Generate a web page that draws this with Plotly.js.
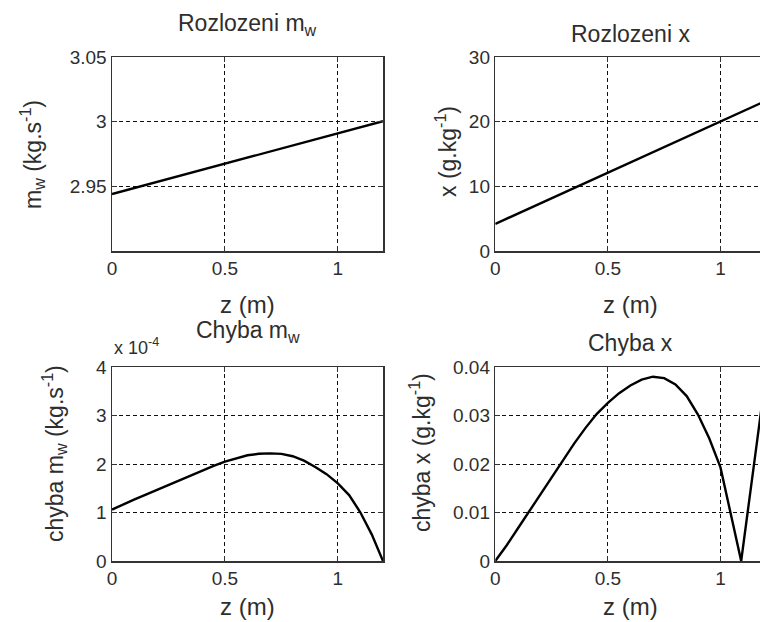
<!DOCTYPE html>
<html>
<head>
<meta charset="utf-8">
<script src="https://cdn.plot.ly/plotly-3.0.1.min.js"></script>
<style>
html, body { margin: 0; padding: 0; overflow: hidden; background: #fff; }
#chart { width: 790px; height: 622px; }
</style>
</head>
<body>
<div id="chart"></div>
<script>
// ---- data ----
const zProfile = [0, 0.2, 0.4, 0.6, 0.8, 1.0, 1.2];
const mwProfile = [2.944, 2.9534, 2.9628, 2.9722, 2.9816, 2.991, 3.0004];
const xProfile = [4.2, 7.35, 10.5, 13.7, 16.85, 20.0, 23.2];

const zErrMw = [0, 0.05, 0.1, 0.15, 0.2, 0.25, 0.3, 0.35, 0.4, 0.45, 0.5, 0.55, 0.6, 0.65, 0.7, 0.75, 0.8, 0.85, 0.9, 0.95, 1.0, 1.05, 1.1, 1.15, 1.2];
const errMw = [1.06, 1.17, 1.27, 1.37, 1.47, 1.57, 1.67, 1.77, 1.87, 1.96, 2.05, 2.12, 2.18, 2.21, 2.22, 2.21, 2.16, 2.07, 1.94, 1.79, 1.60, 1.36, 1.0, 0.55, 0.0]; // x 1e-4

const zErrX = [0, 0.05, 0.1, 0.15, 0.2, 0.25, 0.3, 0.35, 0.4, 0.45, 0.5, 0.55, 0.6, 0.65, 0.7, 0.75, 0.8, 0.85, 0.9, 0.95, 1.0, 1.05, 1.092, 1.15, 1.2];
const errX = [0, 0.0032, 0.0067, 0.0102, 0.0138, 0.0173, 0.0208, 0.0242, 0.0274, 0.0303, 0.0326, 0.0346, 0.0362, 0.0374, 0.0380, 0.0377, 0.0364, 0.0340, 0.0302, 0.0253, 0.0193, 0.0088, 0.0, 0.0203, 0.0378];

const xTickVals = [0, 0.5, 1];
const xTickText = ['0', '0.5', '1'];
const mwTickVals = [2.95, 3, 3.05];
const mwTickText = ['2.95', '3', '3.05'];
const xgTickVals = [0, 10, 20, 30];
const errMwTickVals = [0, 1, 2, 3, 4];
const errXTickVals = [0, 0.01, 0.02, 0.03, 0.04];
const errXTickText = ['0', '0.01', '0.02', '0.03', '0.04'];

// ---- layout helpers (pixel -> paper) ----
const W = 790, H = 622;
const px = v => v / W;
const py = v => 1 - v / H;
const FONT = '"Liberation Sans", Arial, Helvetica, sans-serif';
const TXT = '#2e2e2e';

const lineStyle = { color: '#000', width: 2.4 };

const traces = [
  { x: zProfile, y: mwProfile, xaxis: 'x', yaxis: 'y', mode: 'lines', line: lineStyle, hoverinfo: 'skip' },
  { x: zProfile, y: xProfile, xaxis: 'x2', yaxis: 'y2', mode: 'lines', line: lineStyle, hoverinfo: 'skip' },
  { x: zErrMw, y: errMw, xaxis: 'x3', yaxis: 'y3', mode: 'lines', line: lineStyle, hoverinfo: 'skip' },
  { x: zErrX, y: errX, xaxis: 'x4', yaxis: 'y4', mode: 'lines', line: lineStyle, hoverinfo: 'skip' }
];

function axisBase(extra) {
  return Object.assign({
    showline: true, mirror: 'ticks', linecolor: '#333', linewidth: 1.5,
    ticks: 'inside', ticklen: 5, tickcolor: '#333', tickwidth: 1,
    showgrid: true, gridcolor: '#111', gridwidth: 1, griddash: '4px,3px',
    zeroline: false, fixedrange: true,
    tickfont: { family: FONT, size: 19, color: TXT }
  }, extra);
}

const LX = [112, 383], RX = [495.3, 765.5];
const TY = [57, 251], BY = [367, 561];

const layout = {
  width: W, height: H,
  margin: { l: 0, r: 0, t: 0, b: 0 },
  paper_bgcolor: '#fff', plot_bgcolor: '#fff',
  showlegend: false,
  font: { family: FONT, color: TXT },
  xaxis: axisBase({ domain: [px(LX[0]), px(LX[1])], range: [0, 1.2], tickvals: xTickVals, ticktext: xTickText, anchor: 'y' }),
  yaxis: axisBase({ domain: [py(TY[1]), py(TY[0])], range: [2.9, 3.05], tickvals: mwTickVals, ticktext: mwTickText, anchor: 'x' }),
  xaxis2: axisBase({ domain: [px(RX[0]), px(RX[1])], range: [0, 1.2], tickvals: xTickVals, ticktext: xTickText, anchor: 'y2' }),
  yaxis2: axisBase({ domain: [py(TY[1]), py(TY[0])], range: [0, 30], tickvals: xgTickVals, anchor: 'x2' }),
  xaxis3: axisBase({ domain: [px(LX[0]), px(LX[1])], range: [0, 1.2], tickvals: xTickVals, ticktext: xTickText, anchor: 'y3' }),
  yaxis3: axisBase({ domain: [py(BY[1]), py(BY[0])], range: [0, 4], tickvals: errMwTickVals, anchor: 'x3' }),
  xaxis4: axisBase({ domain: [px(RX[0]), px(RX[1])], range: [0, 1.2], tickvals: xTickVals, ticktext: xTickText, anchor: 'y4' }),
  yaxis4: axisBase({ domain: [py(BY[1]), py(BY[0])], range: [0, 0.04], tickvals: errXTickVals, ticktext: errXTickText, anchor: 'x4' }),
  annotations: []
};

function ann(text, x, y, size, angle, xanchor) {
  layout.annotations.push({
    text: text, xref: 'paper', yref: 'paper', x: px(x), y: py(y),
    xanchor: xanchor || 'center', yanchor: 'middle', showarrow: false,
    textangle: angle || 0, font: { family: FONT, size: size, color: TXT }
  });
}

// subplot titles
ann('Rozlozeni m<sub>w</sub>', 247.5, 24, 23);
ann('Rozlozeni x', 630, 34, 23);
ann('Chyba m<sub>w</sub>', 247.5, 331, 23);
ann('Chyba x', 630, 343, 23);
// x-axis titles
ann('z (m)', 247.5, 304, 24);
ann('z (m)', 630, 304, 24);
ann('z (m)', 247.5, 606, 24);
ann('z (m)', 630, 606, 24);
// y-axis titles
ann('m<sub>w</sub> (kg.s<sup>-1</sup>)', 32, 155, 23, -90);
ann('x (g.kg<sup>-1</sup>)', 446, 152, 23, -90);
ann('chyba m<sub>w</sub> (kg.s<sup>-1</sup>)', 54, 454, 23, -90);
ann('chyba x (g.kg<sup>-1</sup>)', 420, 452, 23, -90);
// exponent label
ann('x 10<sup>-4</sup>', 112, 346, 18, 0, 'left');

Plotly.newPlot('chart', traces, layout, { displayModeBar: false, staticPlot: true });
</script>
</body>
</html>
